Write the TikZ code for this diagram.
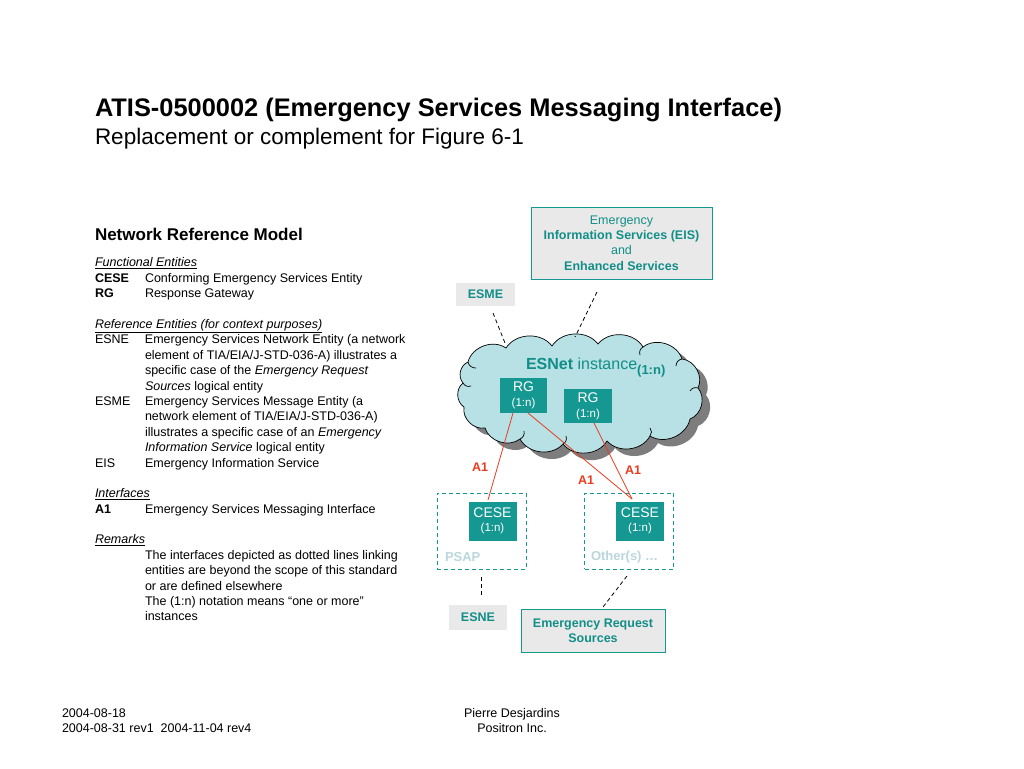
\documentclass[tikz,border=0pt]{standalone}
\usepackage{fontspec}
\setmainfont{Liberation Sans}
\definecolor{tealbox}{RGB}{22,152,146}
\definecolor{tealtxt}{RGB}{18,142,136}
\definecolor{cloudfill}{RGB}{183,225,228}
\definecolor{shadowc}{RGB}{125,125,125}
\definecolor{boxgray}{RGB}{233,233,233}
\definecolor{palet}{RGB}{185,215,220}
\definecolor{redl}{RGB}{232,60,30}
\begin{document}
\begin{tikzpicture}[x=1pt,y=-1pt,
  txt/.style={inner sep=0pt, outer sep=0pt},
  graybox/.style={fill=boxgray, inner sep=0pt, text=tealtxt, align=center,
    font=\bfseries\fontsize{12.5}{15.3}\selectfont},
  bordered/.style={graybox, draw=tealbox, line width=0.9pt},
  febox/.style={fill=tealbox, text=white, align=center, inner sep=0pt},
  dbox/.style={draw=tealbox, dashed, line width=0.8pt, dash pattern=on 4pt off 3pt},
  dline/.style={draw=black, line width=0.8pt, dash pattern=on 4pt off 3pt},
  a1line/.style={draw=redl, line width=0.8pt},
  a1lab/.style={txt, text=redl, font=\bfseries\fontsize{12.5}{15}\selectfont},
  pale/.style={txt, text=palet, font=\bfseries\fontsize{13}{15}\selectfont, anchor=west},
  puff/.style={bend left=55, looseness=1},
  curl/.style={line width=0.7pt, bend right=40}
]
\useasboundingbox[fill=white] (0,0) rectangle (1024,768);

% Titles
\node[txt, anchor=base west, font=\bfseries\fontsize{25.4}{30}\selectfont] (title) at (95,116) {ATIS-0500002 (Emergency Services Messaging Interface)};
\node[txt, anchor=base west, font=\fontsize{22.5}{27}\selectfont] (subtitle) at (95,144) {Replacement or complement for Figure 6-1};

% Left text
\node[txt, anchor=base west, font=\bfseries\fontsize{17}{20}\selectfont] (nrm) at (95,240) {Network Reference Model};
\node[txt, anchor=north west, font=\fontsize{12.5}{15.39}\selectfont] (legend) at (95,256.2) {%
\begin{tabular}{@{}p{50pt}@{}l@{}}
\multicolumn{2}{@{}l@{}}{\underline{\textit{Functional Entities}}}\\
\textbf{CESE} & Conforming Emergency Services Entity\\
\textbf{RG} & Response Gateway\\
 & \\
\multicolumn{2}{@{}l@{}}{\underline{\textit{Reference Entities (for context purposes)}}}\\
ESNE & Emergency Services Network Entity (a network\\
 & element of TIA/EIA/J-STD-036-A) illustrates a\\
 & specific case of the \textit{Emergency Request}\\
 & \textit{Sources} logical entity\\
ESME & Emergency Services Message Entity (a\\
 & network element of TIA/EIA/J-STD-036-A)\\
 & illustrates a specific case of an \textit{Emergency}\\
 & \textit{Information Service} logical entity\\
EIS & Emergency Information Service\\
 & \\
\multicolumn{2}{@{}l@{}}{\underline{\textit{Interfaces}}}\\
\textbf{A1} & Emergency Services Messaging Interface\\
 & \\
\multicolumn{2}{@{}l@{}}{\underline{\textit{Remarks}}}\\
 & The interfaces depicted as dotted lines linking\\
 & entities are beyond the scope of this standard\\
 & or are defined elsewhere\\
 & The (1:n) notation means “one or more”\\
 & instances
\end{tabular}};

% Footer
\node[txt, anchor=west, align=left, font=\fontsize{12.5}{15.5}\selectfont] (date) at (62,720.5) {2004-08-18\\2004-08-31 rev1\ \ 2004-11-04 rev4};
\node[txt, align=center, font=\fontsize{12.5}{15.5}\selectfont] (author) at (512,720.5) {Pierre Desjardins\\Positron Inc.};

% EIS and ESME
\node[bordered, minimum width=181pt, minimum height=72pt, font=\fontsize{12.5}{15.4}\selectfont] (eis) at (621.5,243)
  {Emergency\\\textbf{Information Services (EIS)}\\and\\\textbf{Enhanced Services}};
\node[graybox, minimum width=59pt, minimum height=23pt] (esme) at (485.5,294.5) {ESME};

% Cloud (shadow, then body)
\def\cloudpath{(468,362) to[puff] (506,348) to[puff] (552,346) to[puff] (598,344)
  to[puff] (643,347) to[puff] (682,359) to[puff] (698,388) to[puff] (690,419)
  to[puff] (650,436) to[puff] (607,441) to[puff] (563,444) to[puff] (520,439)
  to[puff] (485,428) to[puff] (464,407) to[puff] (463,383) to[puff] (468,362) -- cycle}
\fill[shadowc, shift={(8,7)}] \cloudpath;
\draw[fill=cloudfill, line width=0.7pt] \cloudpath;
% interior curls typical of the cloud symbol
\draw[curl] (468,362) to (476,368);
\draw[curl] (463,383) to (471,386);
\draw[curl] (643,347) to (640,355);
\draw[curl] (682,359) to (676,366);
\draw[curl] (698,388) to (690,391);
\draw[curl] (650,436) to (650,428);
\draw[curl] (563,444) to (566,436);
\draw[curl] (520,439) to (524,431);

\node[txt, text=tealtxt, anchor=base west] (esnet) at (526,369)
  {{\bfseries\fontsize{16}{19}\selectfont ESNet}{\fontsize{16}{19}\selectfont\ instance}\raisebox{-5pt}{\bfseries\fontsize{13}{15}\selectfont (1:n)}};

% RG boxes
\node[febox, minimum width=47pt, minimum height=35pt] (rg1) at (523.5,395.5)
  {{\fontsize{14}{15}\selectfont RG}\\[3pt]{\fontsize{11.5}{12}\selectfont (1:n)}};
\node[febox, minimum width=48pt, minimum height=34pt] (rg2) at (588,406)
  {{\fontsize{14}{15}\selectfont RG}\\[3pt]{\fontsize{11.5}{12}\selectfont (1:n)}};

% PSAP and Other(s)
\node[dbox, minimum width=89pt, minimum height=76pt] (psap) at (481.5,531) {};
\node[dbox, minimum width=89pt, minimum height=76pt] (other) at (629,531) {};
\node[febox, minimum width=48pt, minimum height=39pt] (cese1) at (492.5,521)
  {{\fontsize{14}{15}\selectfont CESE}\\[2.5pt]{\fontsize{11.5}{12}\selectfont (1:n)}};
\node[febox, minimum width=48pt, minimum height=39pt] (cese2) at (640,521)
  {{\fontsize{14}{15}\selectfont CESE}\\[2.5pt]{\fontsize{11.5}{12}\selectfont (1:n)}};
\node[pale] (psaplab) at (445,557) {PSAP};
\node[pale] (otherlab) at (591,557) {Other(s) …};

% ESNE and ERS
\node[graybox, minimum width=58pt, minimum height=25pt] (esne) at (478,617) {ESNE};
\node[bordered, minimum width=144pt, minimum height=43pt] (ers) at (593,630.5) {Emergency Request\\Sources};

% A1 interfaces
\coordinate (rg1a) at (513,413);
\coordinate (rg1b) at (528,413);
\coordinate (rg2a) at (594,423);
\coordinate (c1top) at (488,500);
\coordinate (c2top) at (632,499);
\draw[a1line] (rg1a) -- (c1top);
\draw[a1line] (rg1b) -- (c2top);
\draw[a1line] (rg2a) -- (c2top);
\node[a1lab] (a1l) at (480,467) {A1};
\node[a1lab] (a1m) at (586,480) {A1};
\node[a1lab] (a1r) at (633,470) {A1};

% dotted (out of scope) links
\coordinate (esmeEnd) at (493,313);
\coordinate (cloudL) at (505,343);
\coordinate (eisEnd) at (597,292);
\coordinate (cloudR) at (575,337);
\coordinate (psapEnd) at (481,577);
\coordinate (esneEnd) at (481,597);
\coordinate (otherEnd) at (627,576);
\coordinate (ersEnd) at (603,607);
\draw[dline] (esmeEnd) -- (cloudL);
\draw[dline] (eisEnd) -- (cloudR);
\draw[dline] (psapEnd) -- (esneEnd);
\draw[dline] (otherEnd) -- (ersEnd);
\end{tikzpicture}
\end{document}
